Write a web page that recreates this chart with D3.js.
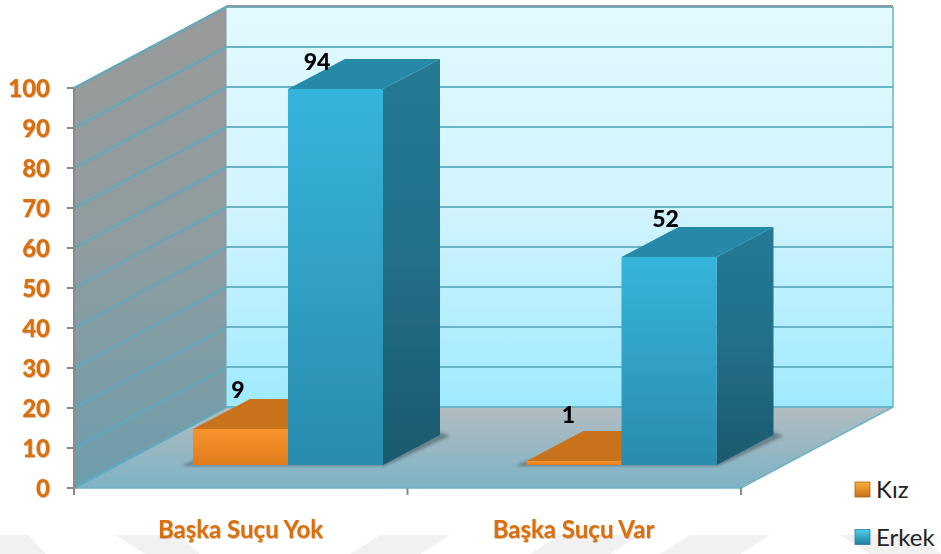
<!DOCTYPE html>
<html><head><meta charset="utf-8">
<script src="https://cdn.jsdelivr.net/npm/d3@7"></script>
<style>
html,body{margin:0;padding:0;background:#fff;overflow:hidden}
text{font-family:Lato,"Open Sans",sans-serif}
</style></head><body>
<svg id="c" width="941" height="554"></svg>
<script>
const categories=["Başka Suçu Yok","Başka Suçu Var"];
const seriesNames=["Kız","Erkek"];
const kiz=[9,1];
const erkek=[94,52];
const ticks=[0,10,20,30,40,50,60,70,80,90,100];
const seriesColors={"Kız":{front:["#f7942c","#e07c1c"],top:"#c8721f",side:"#a85c14"},
 "Erkek":{front:["#36b4dc","#2a8cae"],top:"#2789a8",side:["#257a95","#226f89","#1b5a6e"]}};

const svg=d3.select("#c");
const y=d3.scaleLinear().domain([0,100]).range([488,88]);
const x0=d3.scaleBand().domain(categories).range([74,741]);
const x1=d3.scaleBand().domain(seriesNames).range([119,309]);
const depth={dx:152,dy:-81};
const barDepth={dx:57,dy:-30};
const barBaseShift=-23;
const labelShift={"Kız":[[45,-31],[42,-38]],"Erkek":[[29,-19],[44,-30]]};
const catLabelX=[240.5,573.5];
const defs=svg.append("defs");
function grad(id,stops,x2,y2){
  const g=defs.append("linearGradient").attr("id",id).attr("x1",0).attr("y1",0).attr("x2",x2||0).attr("y2",y2===undefined?1:y2);
  stops.forEach((c,i)=>g.append("stop").attr("offset",i/(stops.length-1)).attr("stop-color",c));
}
grad("gBack",["#e2f9ff","#d2f4fe","#9feaff"]);
grad("gLeft",["#9a9a9a","#8f9ca0","#6c9dac"]);
grad("gFloor",["#b2bcc0","#7db3c5"]);
grad("gKiz",seriesColors["Kız"].front);
grad("gErkek",seriesColors["Erkek"].front);
grad("gErkekSide",seriesColors["Erkek"].side);
grad("lKiz",["#f9b23c","#c9701a"]);
grad("lErkek",["#4fd0ee","#1f7fa0"]);
const soft=defs.append("filter").attr("id","soft");
soft.append("feGaussianBlur").attr("stdDeviation",0.45);
const shadow=defs.append("filter").attr("id","shadow").attr("x","-10%").attr("y","-10%").attr("width","120%").attr("height","130%");
shadow.append("feGaussianBlur").attr("stdDeviation",1.6);
const txt=defs.append("filter").attr("id","txt").attr("x","-10%").attr("y","-20%").attr("width","120%").attr("height","150%");
txt.append("feDropShadow").attr("dx",0.6).attr("dy",0.8).attr("stdDeviation",0.7).attr("flood-color","#a9672a").attr("flood-opacity",0.55);

const pts=a=>a.map(p=>p.join(",")).join(" ");
const wm=svg.append("g").attr("fill","#f1f1f1");
[[0,28,46,0],[115,178,200,145],[380,450,420,350],[560,640,610,530],[690,770,740,660],[840,915,941,870]].forEach(d=>{
  wm.append("polygon").attr("points",pts([[d[0],535],[d[1],535],[d[2],554],[d[3],554]]));
});

const x=[74,741];
const g=svg.append("g").attr("filter","url(#soft)");
// walls
g.append("polygon").attr("fill","url(#gBack)").attr("points",pts([
 [x[0]+depth.dx,y(100)+depth.dy-1],[x[1]+depth.dx,y(100)+depth.dy-1],[x[1]+depth.dx,y(0)+depth.dy],[x[0]+depth.dx,y(0)+depth.dy]]));
g.append("polygon").attr("fill","url(#gLeft)").attr("points",pts([
 [x[0],y(100)],[x[0]+depth.dx,y(100)+depth.dy-1],[x[0]+depth.dx,y(0)+depth.dy],[x[0],y(0)]]));
g.append("polygon").attr("fill","url(#gFloor)").attr("stroke","#6fb3c6").attr("stroke-width",1.5).attr("points",pts([
 [x[0],y(0)],[x[0]+depth.dx,y(0)+depth.dy],[x[1]+depth.dx,y(0)+depth.dy],[x[1],y(0)]]));
// grid
ticks.forEach(t=>{
  g.append("line").attr("x1",x[0]+depth.dx).attr("x2",x[1]+depth.dx).attr("y1",y(t)+depth.dy).attr("y2",y(t)+depth.dy).attr("stroke","#67b5c8").attr("stroke-width",2);
  g.append("line").attr("x1",x[0]).attr("x2",x[0]+depth.dx).attr("y1",y(t)).attr("y2",y(t)+depth.dy).attr("stroke","#5fa9bb").attr("stroke-width",2);
});
// wall frame
g.append("line").attr("x1",x[0]+depth.dx).attr("x2",x[1]+depth.dx).attr("y1",y(100)+depth.dy-1).attr("y2",y(100)+depth.dy-1).attr("stroke","#8d9ba2").attr("stroke-width",2);
g.append("line").attr("x1",x[1]+depth.dx).attr("x2",x[1]+depth.dx).attr("y1",y(100)+depth.dy).attr("y2",y(0)+depth.dy).attr("stroke","#67b5c8").attr("stroke-width",1.5);
g.append("line").attr("x1",x[0]+depth.dx).attr("x2",x[0]+depth.dx).attr("y1",y(100)+depth.dy).attr("y2",y(0)+depth.dy).attr("stroke","#7f9aa4").attr("stroke-width",1);
// axes
const axC="#8b8b8b";
g.append("line").attr("x1",x[0]).attr("x2",x[0]).attr("y1",y(100)).attr("y2",y(0)+6).attr("stroke",axC).attr("stroke-width",2);
ticks.forEach(t=>g.append("line").attr("x1",x[0]-7).attr("x2",x[0]).attr("y1",y(t)).attr("y2",y(t)).attr("stroke",axC).attr("stroke-width",2));
[x0(categories[0]),x0(categories[1]),x[1]].forEach(v=>g.append("line").attr("x1",v).attr("x2",v).attr("y1",y(0)).attr("y2",y(0)+7).attr("stroke",axC).attr("stroke-width",2));

// bars
const values={"Kız":kiz,"Erkek":erkek};
const fl=y(0)+barBaseShift;
categories.forEach((c,ci)=>{
  const L=x0(c)+x1("Kız"), R=x0(c)+x1("Erkek")+x1.bandwidth();
  g.append("polygon").attr("fill","#5a6f78").attr("opacity",.75).attr("filter","url(#shadow)").attr("points",pts([
   [L-12,fl+1],[R+2,fl+1],[R+barDepth.dx+10,fl+barDepth.dy+1],[R+barDepth.dx,fl+barDepth.dy-3],[R,fl-4],[L,fl-4]]));
});
categories.forEach((c,ci)=>{
  seriesNames.forEach(s=>{
    const v=values[s][ci];
    const a=x0(c)+x1(s), b=a+x1.bandwidth();
    const h=y(0)-y(v), t=fl-h;
    const col=seriesColors[s];
    const G=g.append("g");
    G.append("polygon").attr("fill",s==="Erkek"?"url(#gErkekSide)":col.side).attr("points",pts([
      [b,t],[b+barDepth.dx,t+barDepth.dy],[b+barDepth.dx,fl+barDepth.dy],[b,fl]]));
    G.append("polygon").attr("fill",col.top).attr("points",pts([
      [a,t],[a+barDepth.dx,t+barDepth.dy],[b+barDepth.dx,t+barDepth.dy],[b,t]]));
    G.append("rect").attr("x",a).attr("y",t).attr("width",b-a).attr("height",h).attr("fill",s==="Erkek"?"url(#gErkek)":"url(#gKiz)");
    const sh=labelShift[s][ci];
    G.append("text").attr("x",a+sh[0]).attr("y",t+sh[1]).attr("text-anchor","middle")
      .attr("font-size",23).attr("font-weight",900).attr("fill","#000").text(v);
  });
});

// tick labels
ticks.forEach(t=>svg.append("text").attr("x",50).attr("y",y(t)+8.5).attr("text-anchor","end")
  .attr("font-size",24).attr("font-weight",900).attr("fill","#d9700f").attr("filter","url(#txt)").text(t));
categories.forEach((c,i)=>svg.append("text").attr("x",catLabelX[i]).attr("y",538).attr("text-anchor","middle")
  .attr("font-size",24).attr("font-weight",700).attr("fill","#d9700f").attr("filter","url(#txt)").text(c));
// legend
seriesNames.forEach((s,i)=>{
  const ly=490+i*47.5;
  svg.append("rect").attr("x",855).attr("y",ly-8).attr("width",15).attr("height",15).attr("fill",i?"url(#lErkek)":"url(#lKiz)").attr("stroke",i?"#2b7f9c":"#a9621a").attr("stroke-width",.8);
  svg.append("text").attr("x",876).attr("y",ly+8).attr("font-size",24).attr("fill","#222").text(s);
});
</script></body></html>
